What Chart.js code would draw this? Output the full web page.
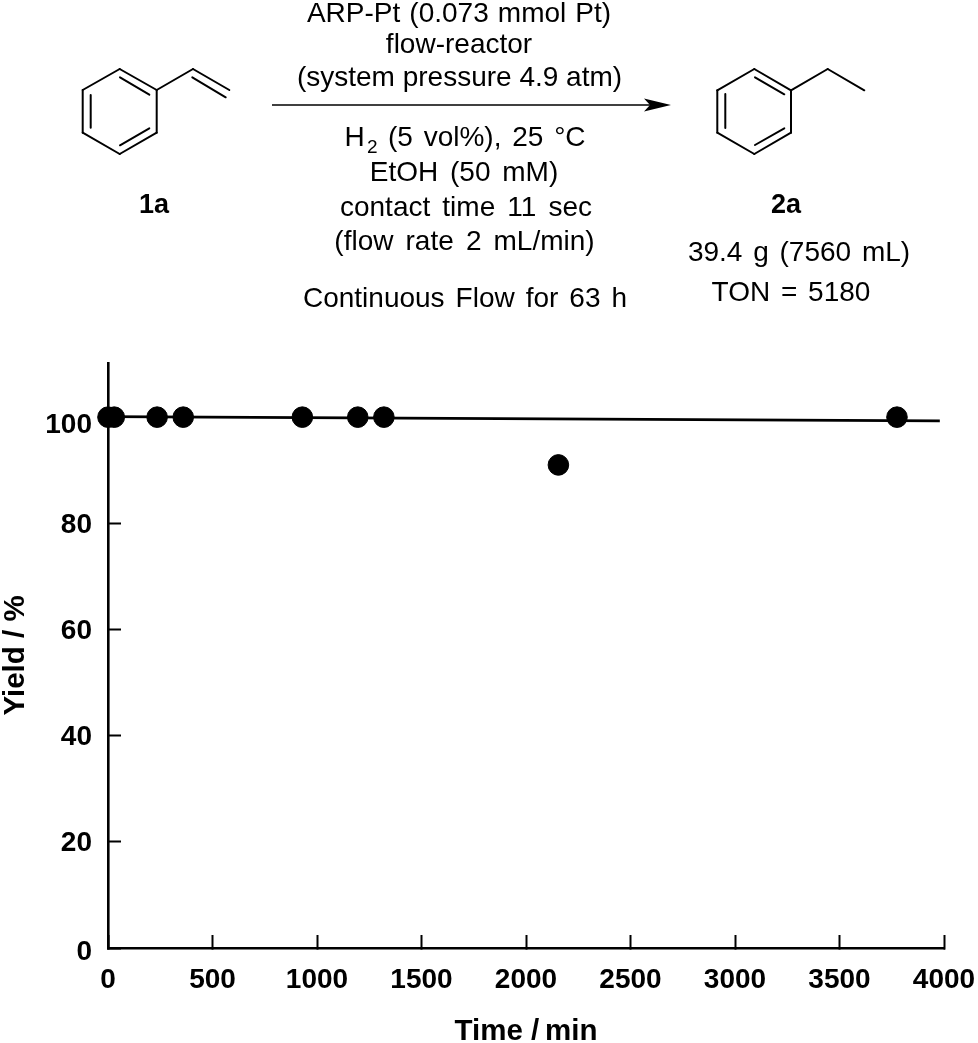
<!DOCTYPE html>
<html>
<head>
<meta charset="utf-8">
<script src="https://cdn.jsdelivr.net/npm/chart.js@4"></script>
<style>html,body{margin:0;padding:0;background:#fff}canvas{display:block}</style>
</head>
<body>
<canvas id="c" width="978" height="1043"></canvas>
<script>
const timeMin = [0, 30, 235, 360, 930, 1195, 1320, 2155, 3775];
const yieldPct = [100, 100, 100, 100, 100, 100, 100, 91, 100];
const fitTime = [0, 3980];
const fitYield = [100.1, 99.3];
const xTicks = [0, 500, 1000, 1500, 2000, 2500, 3000, 3500, 4000];
const yTicks = [0, 20, 40, 60, 80, 100];
const xTitle = 'Time /\u2009min';
const yTitle = 'Yield / %';

const INK = '#000';
const SANS = '"Liberation Sans", Arial, sans-serif';

// text, centre x, centre y, word spacing
const schemeLines = [
  ['ARP-Pt (0.073 mmol Pt)', 459, 14, 1.3],
  ['flow-reactor', 459, 45, 0],
  ['(system pressure 4.9 atm)', 459.5, 78, 0],
  ['EtOH (50 mM)', 464, 173, 4],
  ['contact time 11 sec', 466, 208, 4.3],
  ['(flow rate 2 mL/min)', 464.5, 242, 4.3],
  ['Continuous Flow for 63 h', 465, 299, 3.2],
  ['39.4 g (7560 mL)', 799, 253, 3],
  ['TON = 5180', 791, 293, 3]
];
const boldLabels = [['1a', 154, 206], ['2a', 786, 206]];
const bonds = [
  [119.7,69,156.7,90],[156.7,90,156.7,132.7],[156.7,132.7,119.7,154],[119.7,154,82.7,132.7],[82.7,132.7,82.7,90],[82.7,90,119.7,69],
  [120,77.3,149.3,94.7],[90.7,95,90.7,127.7],[120,145.3,149.3,128.3],
  [156.7,90,193,69],[193,69,229.3,90],[192.3,77.3,225.7,97.3],
  [754.3,69,791,90.3],[791,90.3,791,132.7],[791,132.7,754.3,154],[754.3,154,717.3,132.7],[717.3,132.7,717.3,90.3],[717.3,90.3,754.3,69],
  [755,77.3,784.3,94.3],[725.3,94,725.3,128],[755,145,784.3,128.3],
  [791,90.3,827.7,69],[827.7,69,864.3,90.3]
];

const schemePlugin = {
  id: 'scheme',
  afterDraw(chart) {
    const ctx = chart.ctx;
    ctx.save();
    ctx.strokeStyle = INK; ctx.fillStyle = INK;
    ctx.lineWidth = 2; ctx.lineCap = 'round';
    bonds.forEach(b => { ctx.beginPath(); ctx.moveTo(b[0], b[1]); ctx.lineTo(b[2], b[3]); ctx.stroke(); });
    // reaction arrow
    ctx.lineWidth = 1.6; ctx.lineCap = 'butt';
    ctx.beginPath(); ctx.moveTo(272, 105); ctx.lineTo(655, 105); ctx.stroke();
    ctx.beginPath(); ctx.moveTo(671, 105); ctx.lineTo(644, 98.5); ctx.lineTo(650, 105); ctx.lineTo(644, 111.5); ctx.closePath(); ctx.fill();
    // text
    ctx.textBaseline = 'middle'; ctx.textAlign = 'center';
    ctx.font = '28px ' + SANS;
    schemeLines.forEach(t => { ctx.wordSpacing = t[3] + 'px'; ctx.fillText(t[0], t[1], t[2]); });
    ctx.textAlign = 'left';
    ctx.wordSpacing = '0px';
    ctx.fillText('H', 344.5, 138);
    ctx.font = '19px ' + SANS;
    ctx.fillText('2', 367, 148);
    ctx.font = '28px ' + SANS;
    ctx.wordSpacing = '3px';
    ctx.fillText('(5 vol%), 25 °C', 388, 138);
    ctx.wordSpacing = '0px';
    ctx.textAlign = 'center';
    ctx.font = 'bold 27px ' + SANS;
    boldLabels.forEach(t => ctx.fillText(t[0], t[1], t[2]));
    ctx.restore();
  }
};

// downward nudge of each y tick label, applied through the label's line height
const yLabelNudge = { 0: 4, 20: 1.5, 40: 1.5, 60: 1.5, 80: 2, 100: 8 };

new Chart(document.getElementById('c'), {
  type: 'scatter',
  data: {
    datasets: [
      { label: 'Yield', data: timeMin.map((x, i) => ({ x, y: yieldPct[i] })), pointRadius: 10.3, pointHoverRadius: 10.3,
        backgroundColor: INK, borderColor: INK, showLine: false, clip: false, order: 1 },
      { label: 'Fit', data: fitTime.map((x, i) => ({ x, y: fitYield[i] })), pointRadius: 0, showLine: true,
        borderColor: INK, borderWidth: 2.6, clip: false, order: 2 }
    ]
  },
  options: {
    responsive: false,
    animation: false,
    layout: { padding: { top: 363, right: 34, left: 0, bottom: 0 } },
    plugins: { legend: { display: false }, tooltip: { enabled: false } },
    scales: {
      x: {
        type: 'linear', min: 0, max: 4000,
        afterBuildTicks(s) { s.ticks = xTicks.map(value => ({ value })); },
        afterFit(s) { s.height = 95; s.paddingLeft = 0; s.paddingRight = 0; },
        border: { color: INK, width: 2.6 },
        grid: { drawOnChartArea: false, color: INK, tickColor: INK, tickWidth: 2, tickLength: -13 },
        ticks: { color: INK, font: { family: SANS, weight: 'bold', size: 28 }, padding: 28, maxRotation: 0, autoSkip: false, callback: v => String(v) },
        title: { display: true, text: xTitle, color: INK, font: { family: SANS, weight: 'bold', size: 29.5 }, padding: { top: 0, bottom: -7 } }
      },
      y: {
        type: 'linear', min: 0, max: 110.2,
        afterBuildTicks(s) { s.ticks = yTicks.map(value => ({ value })); },
        afterFit(s) { s.width = 108; s.paddingTop = 0; s.paddingBottom = 0; },
        border: { color: INK, width: 2.6 },
        grid: { drawOnChartArea: false, color: INK, tickColor: INK, tickWidth: 2, tickLength: -13 },
        ticks: {
          color: INK, padding: 29, autoSkip: false,
          font: c => ({ family: SANS, weight: 'bold', size: 28, lineHeight: (2 * (yLabelNudge[c.tick ? c.tick.value : 0] || 2)) + 'px' }),
          callback: v => ['', String(v)]
        },
        title: { display: true, text: yTitle, color: INK, font: { family: SANS, weight: 'bold', size: 29.5 }, padding: { top: -2, bottom: 0 } }
      }
    }
  },
  plugins: [schemePlugin]
});
</script>
</body>
</html>
